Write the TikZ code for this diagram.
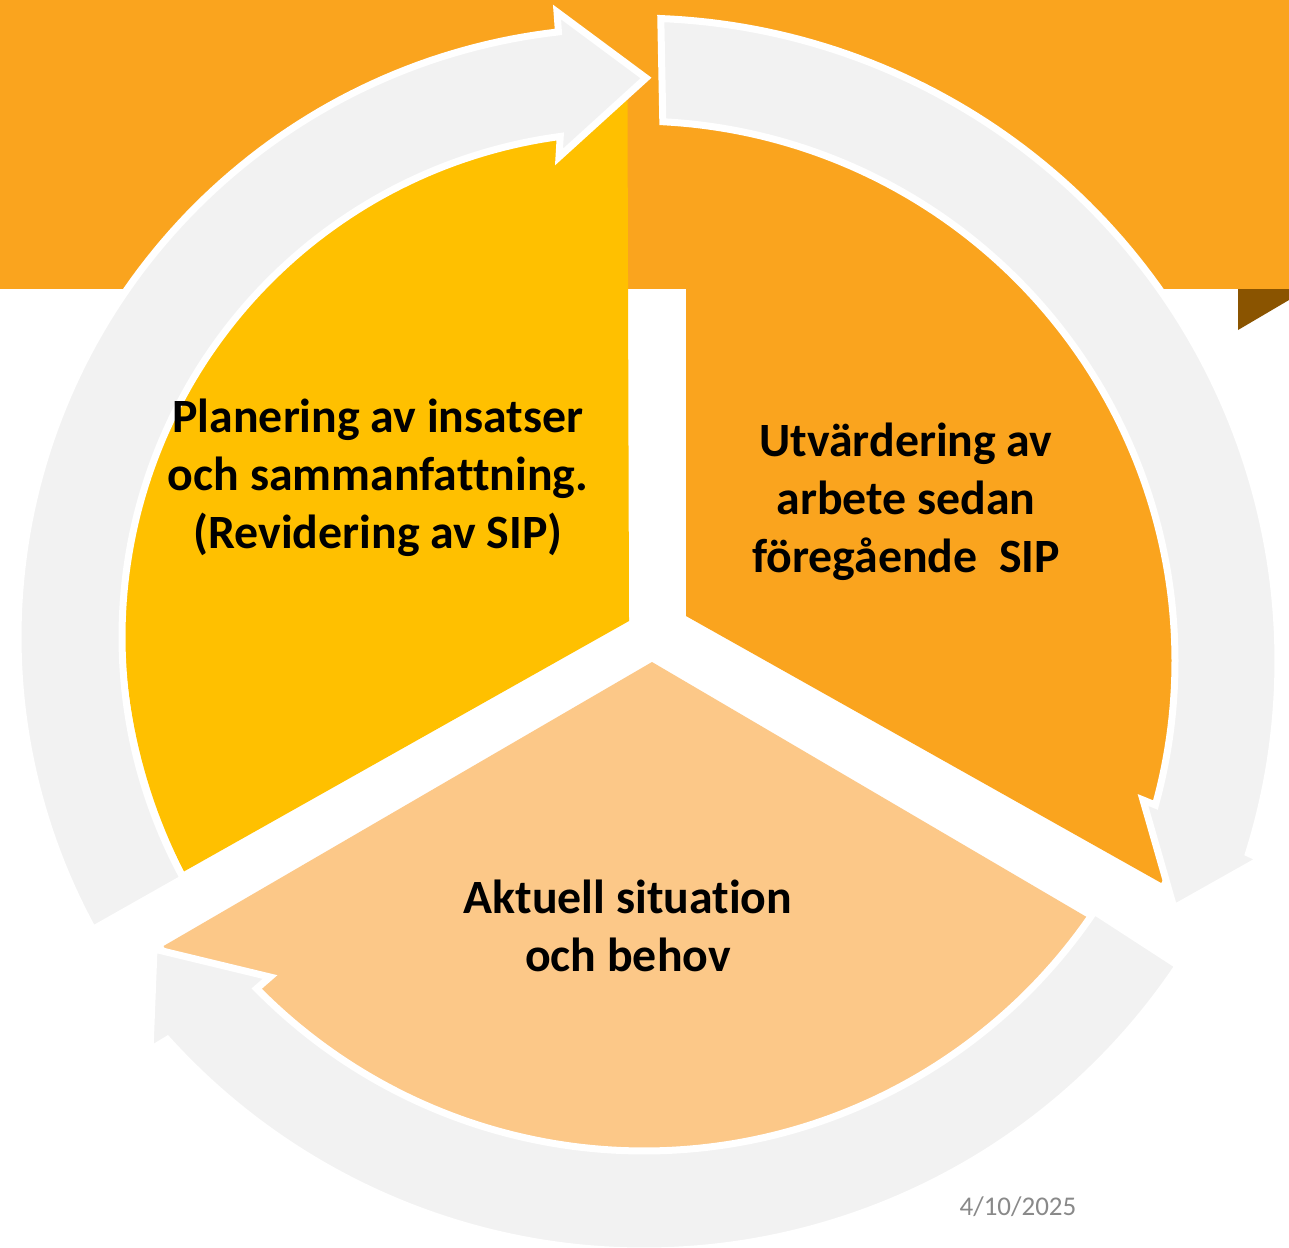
\documentclass[tikz,border=0pt]{standalone}
\usepackage{fontspec}
\setmainfont{Carlito}[Ligatures=NoCommon]
\definecolor{bandorange}{RGB}{250,164,30}
\definecolor{segyellow}{RGB}{255,192,0}
\definecolor{seglight}{RGB}{252,200,136}
\definecolor{ringgray}{RGB}{242,242,242}
\definecolor{darkbrown}{RGB}{138,84,0}
\definecolor{dategray}{RGB}{137,137,137}
\begin{document}
\begin{tikzpicture}[x=1pt,y=-1pt,
  arrowshape/.style={fill=ringgray, draw=white, line width=7pt, line join=miter},
  labeltext/.style={font=\fontsize{47.8}{58}\selectfont\bfseries, align=center, text=black, inner sep=0pt}]
\useasboundingbox (0,0) rectangle (1289,1247);
\clip (0,0) rectangle (1289,1247);
\fill[white] (0,0) rectangle (1289,1247);
% top band and brown corner
\fill[bandorange] (0,0) rectangle (1289,289);
\fill[darkbrown] (1238,289) -- (1289,289) -- (1289,300) -- (1238,330) -- cycle;
% segments
\fill[segyellow] (629,621) -- plot[domain=0:1, samples=100, variable=\t]
  ({629+505*cos(151.8+118.2*\t)},{621+530*sin(151.8+118.2*\t)}) -- cycle;
\fill[bandorange] (686,616) -- plot[domain=0:1, samples=100, variable=\t]
  ({686+545*cos(-90+119.5*\t)},{616+545*sin(-90+119.5*\t)}) -- cycle;
\fill[seglight] (652,662) -- plot[domain=0:1, samples=100, variable=\t]
  ({652+565*cos(30.4+119.6*\t)},{662+565*sin(30.4+119.6*\t)}) -- cycle;
% arrow 1 (left, pointing to top)
\path[arrowshape] plot[domain=0:1, samples=100, variable=\t]
  ({627+609*cos(151.3+112.4*\t)},{637+609*sin(151.3+112.4*\t)})
  -- (557,12) -- (646,78) -- (559,157)
  -- plot[domain=0:1, samples=100, variable=\t]
  ({627+505*cos(262.4-111.1*\t)},{637+505*sin(262.4-111.1*\t)}) -- cycle;
% arrow 2 (right, pointing down)
\path[arrowshape] plot[domain=0:1, samples=100, variable=\t]
  ({635+643*cos(-87.7+105.26*\t)},{661+643*sin(-87.7+105.26*\t)})
  -- (1261,859) -- (1174,908) -- (1143,800)
  -- plot[domain=0:1, samples=100, variable=\t]
  ({635+540*cos(15.47-102.67*\t)},{661+540*sin(15.47-102.67*\t)}) -- cycle;
% arrow 3 (bottom, pointing left)
\path[arrowshape] plot[domain=0:1, samples=100, variable=\t]
  ({644+643*cos(33.8+104.2*\t)},{608+643*sin(33.8+104.2*\t)})
  -- (150,1050) -- (154,949) -- (270,977)
  -- plot[domain=0:1, samples=100, variable=\t]
  ({644+543*cos(135.5-101.7*\t)},{608+543*sin(135.5-101.7*\t)}) -- cycle;
% texts
\node[labeltext] (plan) at (378,478) {Planering av insatser\\och sammanfattning.\\(Revidering av SIP)};
\node[labeltext] (utv) at (906,502) {Utvärdering av\\arbete sedan\\föregående\ \ SIP};
\node[labeltext] (akt) at (628,926) {Aktuell situation\\och behov};
\node[font=\fontsize{27}{32}\selectfont, text=dategray, inner sep=0pt] (date) at (1018,1207) {4/10/2025};
\end{tikzpicture}
\end{document}
